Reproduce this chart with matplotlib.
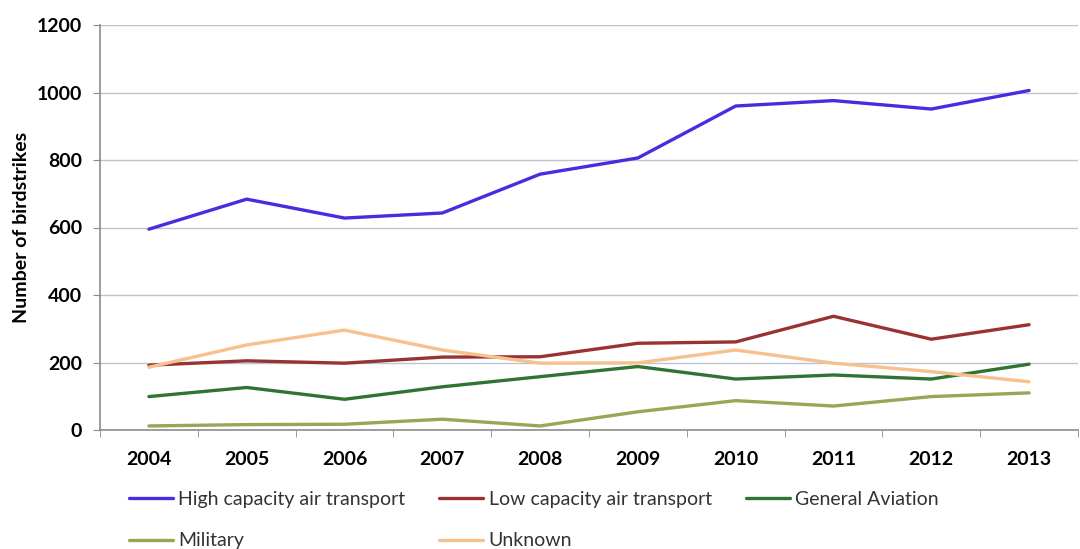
import matplotlib.pyplot as plt
import numpy as np

years = ['2004', '2005', '2006', '2007', '2008', '2009', '2010', '2011', '2012', '2013']
high_capacity = [595, 684, 628, 643, 758, 806, 960, 976, 951, 1006]
low_capacity = [192, 205, 198, 216, 217, 257, 261, 337, 269, 312]
general_aviation = [99, 126, 91, 128, 158, 188, 151, 163, 151, 195]
military = [12, 16, 17, 32, 12, 54, 87, 71, 99, 110]
unknown = [186, 252, 296, 237, 198, 199, 237, 198, 173, 143]

series = [
    ('High capacity air transport', high_capacity, '#4b2be0'),
    ('Low capacity air transport', low_capacity, '#993333'),
    ('General Aviation', general_aviation, '#2f7433'),
    ('Military', military, '#9aa655'),
    ('Unknown', unknown, '#f7c08f'),
]

plt.rcParams['font.family'] = ['Lato', 'DejaVu Sans']

fig = plt.figure(figsize=(10.8, 5.49), dpi=100)
ax = fig.add_axes([100 / 1080, 1 - 430 / 549, 978 / 1080, 405 / 549])

x = np.arange(len(years))
lines = {}
for label, vals, color in series:
    lines[label], = ax.plot(x, vals, color=color, linewidth=2.4, label=label,
                            solid_capstyle='round')

ax.set_xlim(-0.5, len(years) - 0.5)
ax.set_ylim(0, 1200)
ax.set_yticks(range(0, 1201, 200))
ax.set_yticklabels([str(v) for v in range(0, 1201, 200)], fontsize=14, fontweight='bold')

# category axis: labels at centres, tick marks at boundaries
ax.set_xticks(x)
ax.set_xticklabels(years, fontsize=14, fontweight='bold')
ax.tick_params(axis='x', which='major', length=0, pad=15)
ax.set_xticks(np.arange(-0.5, len(years) + 0.5, 1), minor=True)
ax.tick_params(axis='x', which='minor', length=5, color='#8c8c8c', direction='out')
ax.tick_params(axis='y', length=5, color='#8c8c8c', direction='out', pad=8)

ax.grid(axis='y', color='#b8c4d2', linewidth=1)
ax.set_axisbelow(True)
for s in ['top', 'right']:
    ax.spines[s].set_visible(False)
for s in ['left', 'bottom']:
    ax.spines[s].set_color('#8c8c8c')
    ax.spines[s].set_linewidth(1.2)

ax.set_ylabel('Number of birdstrikes', fontsize=14, fontweight='bold', labelpad=5)

# legend is filled column-wise, so order entries to read row-wise
order = ['High capacity air transport', 'Military', 'Low capacity air transport',
         'Unknown', 'General Aviation']
leg = fig.legend([lines[k] for k in order], order, loc='upper left',
                 bbox_to_anchor=(129 / 1080, 1 - 491 / 549), ncol=3,
                 frameon=False, fontsize=14, handlelength=2.27, handletextpad=0.26,
                 columnspacing=1.75, labelspacing=1.25, borderaxespad=0, borderpad=0)
for t in leg.get_texts():
    t.set_color('#333333')

fig.savefig('out.png', dpi=100)
